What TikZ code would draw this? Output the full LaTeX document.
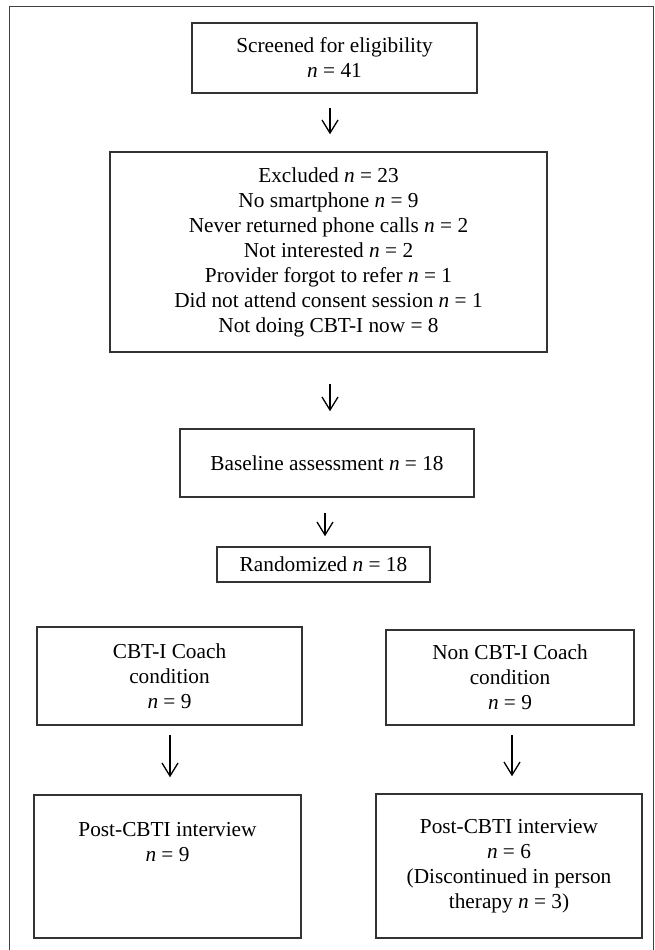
\documentclass[tikz,border=0pt]{standalone}
\usepackage{fontspec}
\setmainfont{Liberation Serif}
\usetikzlibrary{arrows.meta}
\begin{document}
\begin{tikzpicture}[x=1pt,y=-1pt,
  box/.style={draw=black!80, line width=1.5pt, align=center, inner sep=0pt,
    font=\fontsize{21.3}{25}\selectfont},
  arr/.style={draw=black, line width=1.3pt, -{Straight Barb[length=13pt,width=16pt,line width=1.3pt]}},
  frame/.style={draw=black!75, line width=1pt}]
\useasboundingbox (0,0) rectangle (655,950);
\draw[frame] (9,950) -- (9,7) -- (653.5,7) -- (653.5,950);

\node[box, minimum width=285, minimum height=70] (scr) at (334.5,58)
  {Screened for eligibility\\ \textit{n} = 41};
\node[box, minimum width=437, minimum height=200] (exc) at (328.5,252)
  {Excluded \textit{n} = 23\\ No smartphone \textit{n} = 9\\ Never returned phone calls \textit{n} = 2\\
   Not interested \textit{n} = 2\\ Provider forgot to refer \textit{n} = 1\\
   Did not attend consent session \textit{n} = 1\\ Not doing CBT-I now = 8};
\node[box, minimum width=294, minimum height=68] (base) at (327,463)
  {Baseline assessment \textit{n} = 18};
\node[box, minimum width=213, minimum height=35] (rand) at (323.5,564.5)
  {Randomized \textit{n} = 18};
\node[box, minimum width=265, minimum height=98] (cbt) at (169.5,676)
  {CBT-I Coach\\ condition\\ \textit{n} = 9};
\node[box, minimum width=248, minimum height=95] (non) at (510,677.5)
  {Non CBT-I Coach\\ condition\\ \textit{n} = 9};
\node[box, minimum width=267, minimum height=143] (p1) at (167.5,866.5)
  {Post-CBTI interview\\ \textit{n} = 9\\ ~\\ ~};
\node[box, minimum width=266, minimum height=144] (p2) at (509,866)
  {Post-CBTI interview\\ \textit{n} = 6\\ (Discontinued in person\\ therapy \textit{n} = 3)};

\coordinate (xa) at (330,0);
\coordinate (xb) at (325,0);
\coordinate (xl) at (170,0);
\coordinate (xr) at (512,0);
\draw[arr, shorten <=14pt, shorten >=17pt] (scr.south -| xa) -- (exc.north -| xa);
\draw[arr, shorten <=31pt, shorten >=17pt] (exc.south -| xa) -- (base.north -| xa);
\draw[arr, shorten <=15pt, shorten >=10pt] (base.south -| xb) -- (rand.north -| xb);
\draw[arr, shorten <=9pt, shorten >=17pt] (cbt.south -| xl) -- (p1.north -| xl);
\draw[arr, shorten <=9pt, shorten >=17pt] (non.south -| xr) -- (p2.north -| xr);
\end{tikzpicture}
\end{document}
